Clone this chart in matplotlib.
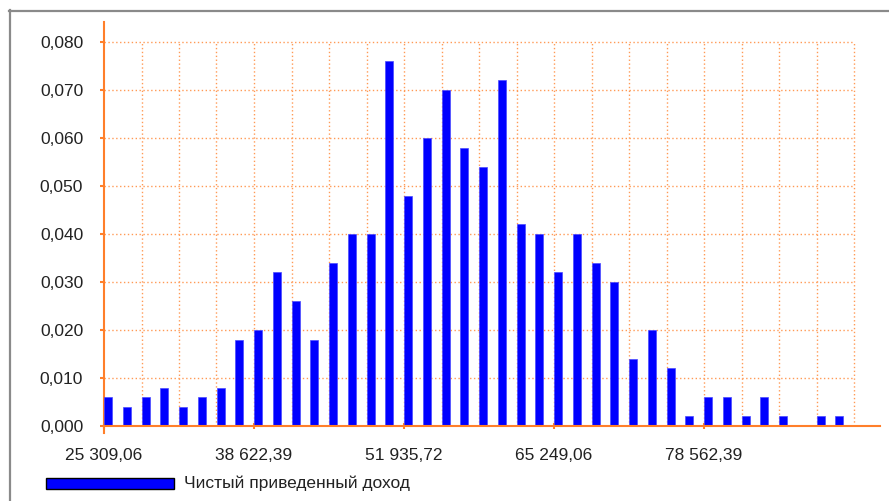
"""Histogram of NPV ("Чистый приведенный доход") — relative frequency per bin."""
import matplotlib
matplotlib.use("Agg")
import matplotlib.pyplot as plt
from matplotlib.lines import Line2D
from matplotlib.patches import Rectangle
import numpy as np

# --- Data -------------------------------------------------------------------------------------- #
BIN_START = 25309.06           # left edge of the first bin
BIN_WIDTH = 1664.1667          # width of one bin
DENSITY = [0.006, 0.004, 0.006, 0.008, 0.004, 0.006, 0.008, 0.018, 0.020, 0.032,
           0.026, 0.018, 0.034, 0.040, 0.040, 0.076, 0.048, 0.060, 0.070, 0.058,
           0.054, 0.072, 0.042, 0.040, 0.032, 0.040, 0.034, 0.030, 0.014, 0.020,
           0.012, 0.002, 0.006, 0.006, 0.002, 0.006, 0.002, 0.000, 0.002, 0.002]
X_TICKS = [25309.06, 38622.39, 51935.72, 65249.06, 78562.39]
Y_TICKS = [0.000, 0.010, 0.020, 0.030, 0.040, 0.050, 0.060, 0.070, 0.080]
LEGEND_LABEL = "Чистый приведенный доход"

# --- Style ------------------------------------------------------------------------------------- #
W, H, DPI = 889, 501, 100
ORANGE = "#ff7f2a"
GRID = "#ff9a55"
BLUE = "#0000ff"
plt.rcParams["font.family"] = ["Liberation Sans", "DejaVu Sans"]
FS = 12.5

px_per_x = 150.0 / (X_TICKS[1] - X_TICKS[0])   # one labelled step = 150 px
px_per_y = 4800.0                               # 0.01 = 48 px

fig = plt.figure(figsize=(W / DPI, H / DPI), dpi=DPI)
ax = fig.add_axes([104 / W, (H - 433) / H, 776 / W, 411 / H])

edges = BIN_START + np.arange(len(DENSITY)) * BIN_WIDTH
ax.bar(edges, DENSITY, width=BIN_WIDTH * 0.43, align="edge", color=BLUE,
       edgecolor="#4a4aff", linewidth=0.5, zorder=3)

x0 = X_TICKS[0]
ax.set_xlim(x0, x0 + 776 / px_per_x)
ax.set_ylim(-7 / px_per_y, Y_TICKS[-1] + 20 / px_per_y)

# dotted grid: half a labelled step apart, stopping at the last bin edge
grid_step = (X_TICKS[1] - X_TICKS[0]) / 4
grid_end = edges[-1] + BIN_WIDTH
ax.hlines(Y_TICKS[1:], x0, grid_end, colors=GRID, linestyles=(0, (1.0, 1.8)), lw=1.0, zorder=1)
ax.vlines(x0 + grid_step * np.arange(1, 21), 0, Y_TICKS[-1], colors=GRID,
          linestyles=(0, (1.0, 1.8)), lw=1.0, zorder=1)

for s in ("top", "right"):
    ax.spines[s].set_visible(False)
ax.spines["left"].set_color(ORANGE)
ax.spines["left"].set_linewidth(1.5)
ax.spines["bottom"].set_color(ORANGE)
ax.spines["bottom"].set_linewidth(1.5)
ax.spines["bottom"].set_position(("data", 0))
ax.spines["bottom"].set_zorder(4)

ax.set_xticks(X_TICKS)
ax.set_xticklabels([f"{v:,.2f}".replace(",", " ").replace(".", ",") for v in X_TICKS])
ax.set_yticks(Y_TICKS)
ax.set_yticklabels([f"{v:.3f}".replace(".", ",") for v in Y_TICKS])
ax.tick_params(axis="x", direction="inout", length=5, width=1.5, color=ORANGE,
               labelsize=FS, labelcolor="#222222", pad=13)
ax.tick_params(axis="y", direction="out", length=3, width=1.5, color=ORANGE,
               labelsize=FS, labelcolor="#222222", pad=12)

# panel frame (grey bevel top/left)
fig.add_artist(Line2D([9.5 / W, 9.5 / W], [0, 1 - 10 / H], color="#8a8a8a", lw=1.6))
fig.add_artist(Line2D([9 / W, 1], [1 - 10.5 / H, 1 - 10.5 / H], color="#8a8a8a", lw=1.6))

# legend
fig.add_artist(Rectangle((46 / W, (H - 489) / H), 128 / W, 11 / H, facecolor=BLUE,
                         edgecolor="black", lw=1.0))
fig.text(184 / W, (H - 483.5) / H, LEGEND_LABEL, fontsize=FS, color="#222222",
         ha="left", va="center")

fig.savefig("out.png", dpi=DPI)
